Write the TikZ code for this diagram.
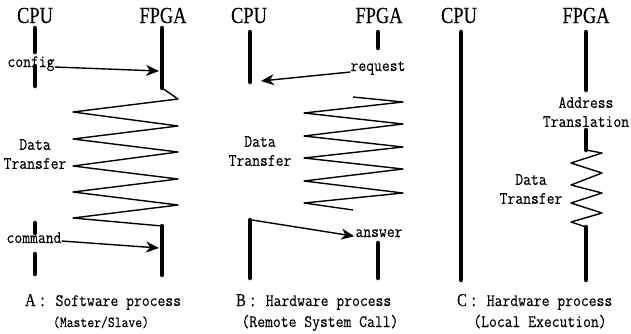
\documentclass[tikz,border=0pt]{standalone}
\usepackage{fontspec}
\usetikzlibrary{arrows.meta}
\newfontfamily\headfont[FakeStretch=0.8,FakeBold=0.3]{Liberation Serif}
\newfontfamily\labfont[FakeStretch=0.87,FakeBold=0.2]{Latin Modern Mono}
\tikzset{
  head/.style={font=\headfont\fontsize{23pt}{23pt}\selectfont, inner sep=0pt, anchor=base},
  lab/.style={font=\labfont\fontsize{17.5pt}{19pt}\selectfont, inner sep=0pt, align=center},
  captxt/.style={font=\labfont\fontsize{17.5pt}{19pt}\selectfont, inner sep=0pt, anchor=base west},
  bar/.style={line width=4.5pt, line cap=round},
  zig/.style={line width=1.4pt, line join=round},
  msg/.style={line width=1.4pt, -{Stealth[length=13pt,width=11pt,inset=4pt]}},
}
\newcommand{\capletter}[1]{{\headfont\fontsize{18pt}{18pt}\selectfont #1\hspace{5pt}:}\hspace{11pt}}
\begin{document}
\begin{tikzpicture}[x=1pt,y=-1pt]
\useasboundingbox (0,0) rectangle (631,333);
\fill[white] (0,0) rectangle (631,333);

% ---------------- Panel A ----------------
\node[head] (cpuA) at (35,23) {CPU};
\node[head] (fpgaA) at (163,23) {FPGA};
\draw[bar] (35,28) -- (35,52);
\draw[bar] (35,66) -- (35,86);
\draw[bar] (35,223) -- (35,233);
\draw[bar] (35,254) -- (35,274);
\coordinate (fA1t) at (162,28);
\coordinate (fA1b) at (162,88);
\coordinate (fA2t) at (162,226);
\coordinate (fA2b) at (162,275);
\draw[bar] (fA1t) -- (fA1b);
\draw[bar] (fA2t) -- (fA2b);
\node[lab, anchor=base] (config) at (31,67) {config};
\coordinate (cfgTip) at (159,71);
\draw[msg] (config.base east) -- (cfgTip);
\node[lab, anchor=base] (command) at (34,243) {command};
\coordinate (cmdTip) at (159,248);
\draw[msg] ([yshift=2pt]command.base east) -- (cmdTip);
\draw[zig] (fA1b) -- (178,99) -- (73,112) -- (178,126) -- (73,139) -- (178,152)
  -- (73,166) -- (178,179) -- (73,192) -- (178,205) -- (73,218) -- (fA2t);
\node[lab] (dtA) at (35,154) {Data\\Transfer};
\node[captxt] (capA) at (25,306) {\capletter{A}Software process};
\node[lab, anchor=base, font=\labfont\fontsize{15.3pt}{15pt}\selectfont] (subA) at (101,327) {(Master/Slave)};

% ---------------- Panel B ----------------
\node[head] (cpuB) at (249,23) {CPU};
\node[head] (fpgaB) at (379,23) {FPGA};
\coordinate (cB1t) at (250,32);
\coordinate (cB1b) at (250,82);
\coordinate (cB2t) at (250,220);
\coordinate (cB2b) at (250,278);
\draw[bar] (cB1t) -- (cB1b);
\draw[bar] (cB2t) -- (cB2b);
\draw[bar] (378,32) -- (378,48);
\draw[bar] (378,243) -- (378,278);
\node[lab, anchor=base] (request) at (378,71) {request};
\coordinate (reqTip) at (261,81);
\draw[msg] ([yshift=-1pt]request.base west) -- (reqTip);
\draw[zig] (353,97) -- (403,102) -- (304,113) -- (403,124) -- (304,136) -- (403,147)
  -- (304,158) -- (403,169) -- (304,181) -- (403,193) -- (304,203) -- (353,210);
\node[lab] (dtB) at (260,151) {Data\\Transfer};
\node[lab, anchor=base] (answer) at (379,237) {answer};
\draw[msg] ([xshift=2pt]cB2t) -- ([xshift=-1pt,yshift=-3pt]answer.west);
\node[captxt] (capB) at (236,306) {\capletter{B}Hardware process};
\node[lab, anchor=base] (subB) at (320,327) {(Remote System Call)};

% ---------------- Panel C ----------------
\node[head] (cpuC) at (459,23) {CPU};
\node[head] (fpgaC) at (586,23) {FPGA};
\draw[bar] (461,32) -- (461,280);
\draw[bar] (586,32) -- (586,90);
\coordinate (fC2t) at (586,130);
\coordinate (fC2b) at (586,150);
\coordinate (fC3t) at (586,227);
\coordinate (fC3b) at (586,280);
\draw[bar] (fC2t) -- (fC2b);
\draw[bar] (fC3t) -- (fC3b);
\draw[zig] (fC2b) -- (602,153) -- (571,163) -- (602,173) -- (571,185) -- (602,193)
  -- (571,203) -- (602,213) -- (571,222) -- (fC3t);
\node[lab] (addr) at (586,112) {Address\\Translation};
\node[lab] (dtC) at (531,189) {Data\\Transfer};
\node[captxt] (capC) at (457,306) {\capletter{C}Hardware process};
\node[lab, anchor=base] (subC) at (540,327) {(Local Execution)};
\end{tikzpicture}
\end{document}
